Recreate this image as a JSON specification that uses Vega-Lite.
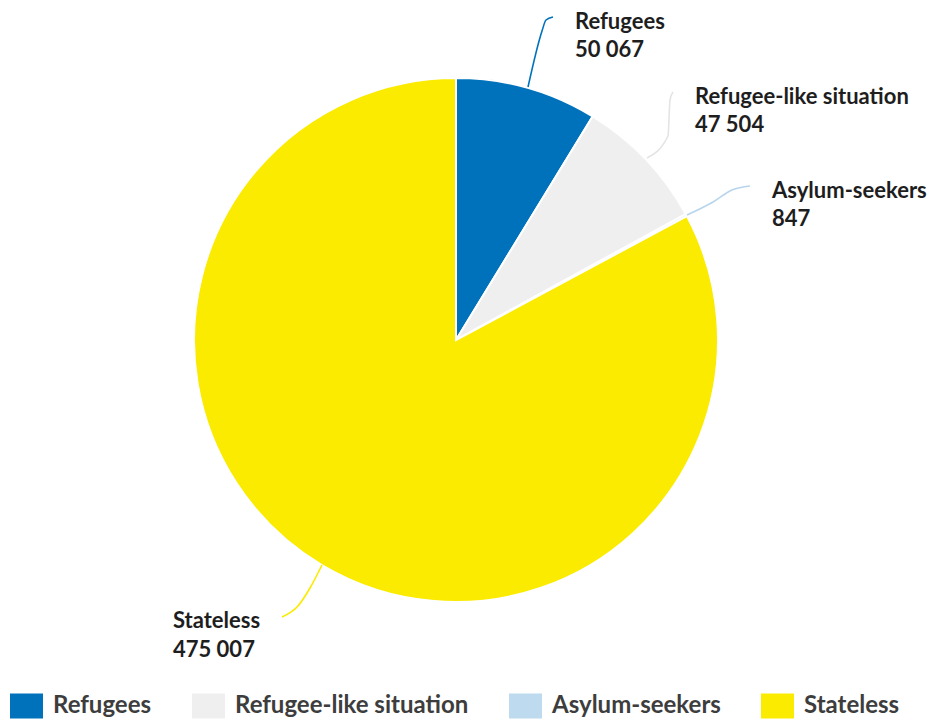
{
  "$schema": "https://vega.github.io/schema/vega-lite/v6.json",
  "width": 912,
  "height": 680,
  "autosize": {"type": "none"},
  "padding": {"left": 0, "top": 0, "right": 18, "bottom": 43},
  "background": "white",
  "config": {
    "view": {"stroke": null},
    "locale": {"number": {"decimal": ".", "thousands": " ", "grouping": [3], "currency": ["", ""]}}
  },
  "datasets": {
    "pie": [
      {"category": "Refugees", "value": 50067, "order": 1},
      {"category": "Refugee-like situation", "value": 47504, "order": 2},
      {"category": "Asylum-seekers", "value": 847, "order": 3},
      {"category": "Stateless", "value": 475007, "order": 4}
    ],
    "leaders": [
      {"category": "Refugees", "seq": 1, "u": 0.2759, "v": 0.9693},
      {"category": "Refugees", "seq": 2, "u": 0.3295, "v": 1.1839},
      {"category": "Refugees", "seq": 3, "u": 0.3448, "v": 1.2261},
      {"category": "Refugees", "seq": 4, "u": 0.3716, "v": 1.2375},
      {"category": "Refugee-like situation", "seq": 1, "u": 0.7318, "v": 0.6973},
      {"category": "Refugee-like situation", "seq": 2, "u": 0.8123, "v": 0.7816},
      {"category": "Refugee-like situation", "seq": 3, "u": 0.8199, "v": 0.9195},
      {"category": "Refugee-like situation", "seq": 4, "u": 0.8314, "v": 0.9502},
      {"category": "Asylum-seekers", "seq": 1, "u": 0.8851, "v": 0.4789},
      {"category": "Asylum-seekers", "seq": 2, "u": 0.9847, "v": 0.5287},
      {"category": "Asylum-seekers", "seq": 3, "u": 1.0575, "v": 0.5747},
      {"category": "Asylum-seekers", "seq": 4, "u": 1.1264, "v": 0.5900},
      {"category": "Stateless", "seq": 1, "u": -0.5134, "v": -0.8621},
      {"category": "Stateless", "seq": 2, "u": -0.5594, "v": -0.9502},
      {"category": "Stateless", "seq": 3, "u": -0.6054, "v": -1.0192},
      {"category": "Stateless", "seq": 4, "u": -0.6667, "v": -1.0613}
    ]
  },
  "layer": [
    {
      "data": {"name": "pie"},
      "mark": {"type": "arc", "outerRadius": 262, "stroke": "white", "strokeWidth": 2},
      "encoding": {
        "theta": {"field": "value", "type": "quantitative", "stack": true},
        "order": {"field": "order", "type": "quantitative"},
        "color": {
          "field": "category",
          "type": "nominal",
          "scale": {
            "domain": ["Refugees", "Refugee-like situation", "Asylum-seekers", "Stateless"],
            "range": ["#0072BC", "#EFEFEF", "#BEDAEE", "#FAEB00"]
          },
          "legend": {
            "title": null,
            "orient": "none",
            "legendX": 10,
            "legendY": 689,
            "direction": "horizontal",
            "columns": 4,
            "symbolType": "M-1,-0.758H1V0.758H-1Z",
            "symbolSize": 1089,
            "symbolStrokeWidth": 0,
            "symbolOpacity": 1,
            "labelFont": "Lato",
            "labelFontSize": 24,
            "labelFontWeight": "bold",
            "labelColor": "#3d3d3d",
            "labelOffset": 10,
            "columnPadding": 40,
            "labelLimit": 400
          }
        }
      }
    },
    {
      "data": {"name": "leaders"},
      "mark": {"type": "line", "interpolate": "monotone", "strokeWidth": 1.6},
      "encoding": {
        "x": {"field": "u", "type": "quantitative", "scale": {"domain": [-1.7471, 1.7471], "nice": false, "zero": false}, "axis": null},
        "y": {"field": "v", "type": "quantitative", "scale": {"domain": [-1.3027, 1.3027], "nice": false, "zero": false}, "axis": null},
        "detail": {"field": "category"},
        "stroke": {
          "field": "category",
          "type": "nominal",
          "scale": {
            "domain": ["Refugees", "Refugee-like situation", "Asylum-seekers", "Stateless"],
            "range": ["#0072BC", "#E4E4E4", "#B8D5EC", "#FAEB00"]
          },
          "legend": null
        }
      }
    },
    {
      "data": {"name": "leaders"},
      "transform": [
        {"filter": "datum.seq == 4 && datum.category != 'Stateless'"},
        {"lookup": "category", "from": {"data": {"name": "pie"}, "key": "category", "fields": ["value"]}}
      ],
      "layer": [
        {
          "mark": {"type": "text", "align": "left", "baseline": "alphabetic", "dx": 22, "dy": 12, "font": "Lato", "fontSize": 22, "fontWeight": "bold", "color": "#1e1e1e"},
          "encoding": {
            "x": {"field": "u", "type": "quantitative"},
            "y": {"field": "v", "type": "quantitative"},
            "text": {"field": "category"}
          }
        },
        {
          "mark": {"type": "text", "align": "left", "baseline": "alphabetic", "dx": 22, "dy": 40, "font": "Lato", "fontSize": 22, "fontWeight": "bold", "color": "#1e1e1e"},
          "encoding": {
            "x": {"field": "u", "type": "quantitative"},
            "y": {"field": "v", "type": "quantitative"},
            "text": {"field": "value", "type": "quantitative", "format": ",d"}
          }
        }
      ]
    },
    {
      "data": {"name": "leaders"},
      "transform": [
        {"filter": "datum.seq == 4 && datum.category == 'Stateless'"},
        {"lookup": "category", "from": {"data": {"name": "pie"}, "key": "category", "fields": ["value"]}}
      ],
      "layer": [
        {
          "mark": {"type": "text", "align": "left", "baseline": "alphabetic", "dx": -109, "dy": 11, "font": "Lato", "fontSize": 22, "fontWeight": "bold", "color": "#1e1e1e"},
          "encoding": {
            "x": {"field": "u", "type": "quantitative"},
            "y": {"field": "v", "type": "quantitative"},
            "text": {"field": "category"}
          }
        },
        {
          "mark": {"type": "text", "align": "left", "baseline": "alphabetic", "dx": -109, "dy": 40, "font": "Lato", "fontSize": 22, "fontWeight": "bold", "color": "#1e1e1e"},
          "encoding": {
            "x": {"field": "u", "type": "quantitative"},
            "y": {"field": "v", "type": "quantitative"},
            "text": {"field": "value", "type": "quantitative", "format": ",d"}
          }
        }
      ]
    }
  ]
}
